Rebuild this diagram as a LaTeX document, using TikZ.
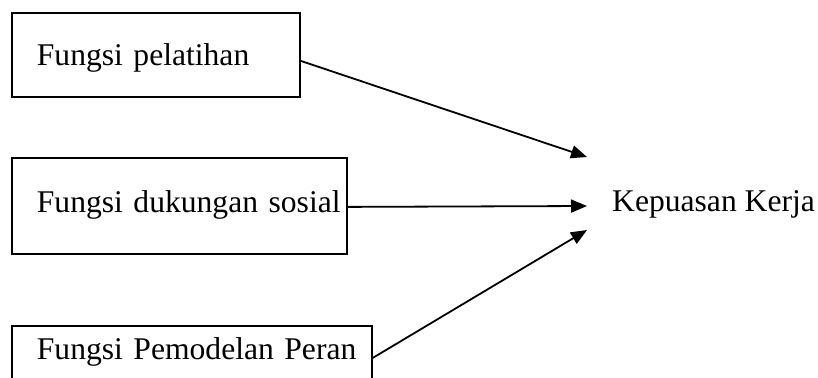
\documentclass[tikz,border=0pt]{standalone}
\usepackage{fontspec}
\setmainfont{Liberation Serif}
\usetikzlibrary{arrows.meta}
\begin{document}
\begin{tikzpicture}[x=1pt,y=-1pt,
  box/.style={draw, line width=1.8pt, inner sep=0pt, align=left, anchor=north west,
    font=\fontsize{31.6}{36}\selectfont},
  lbl/.style={inner sep=0pt, anchor=base west, font=\fontsize{31.6}{36}\selectfont},
  arr/.style={line width=1.8pt, -{Triangle[length=16pt,width=13pt]}}]
\useasboundingbox (0,0) rectangle (818,377);
\clip (0,0) rectangle (818,377);
\node[box, text width=288pt, text height=53pt, text depth=31pt] (b1) at (11,12)
  {\hspace*{25pt}Fungsi pelatihan};
\node[box, text width=335pt, text height=55pt, text depth=41pt] (b2) at (11,157)
  {\hspace*{25pt}Fungsi dukungan sosial};
\node[box, text width=360pt, text height=34pt, text depth=60pt] (b3) at (11,325)
  {\hspace*{25pt}Fungsi Pemodelan Peran};
\node[lbl] (k) at (612,211) {Kepuasan Kerja};
\draw[arr] ([yshift=5pt]b1.base east) -- ([xshift=-25pt,yshift=54pt]k.base west);
\draw[arr] ([yshift=6pt]b2.base east) -- ([xshift=-25pt,yshift=5pt]k.base west);
\draw[arr] ([yshift=2pt]b3.base east) -- ([xshift=-25pt,yshift=-19pt]k.base west);
\end{tikzpicture}
\end{document}
